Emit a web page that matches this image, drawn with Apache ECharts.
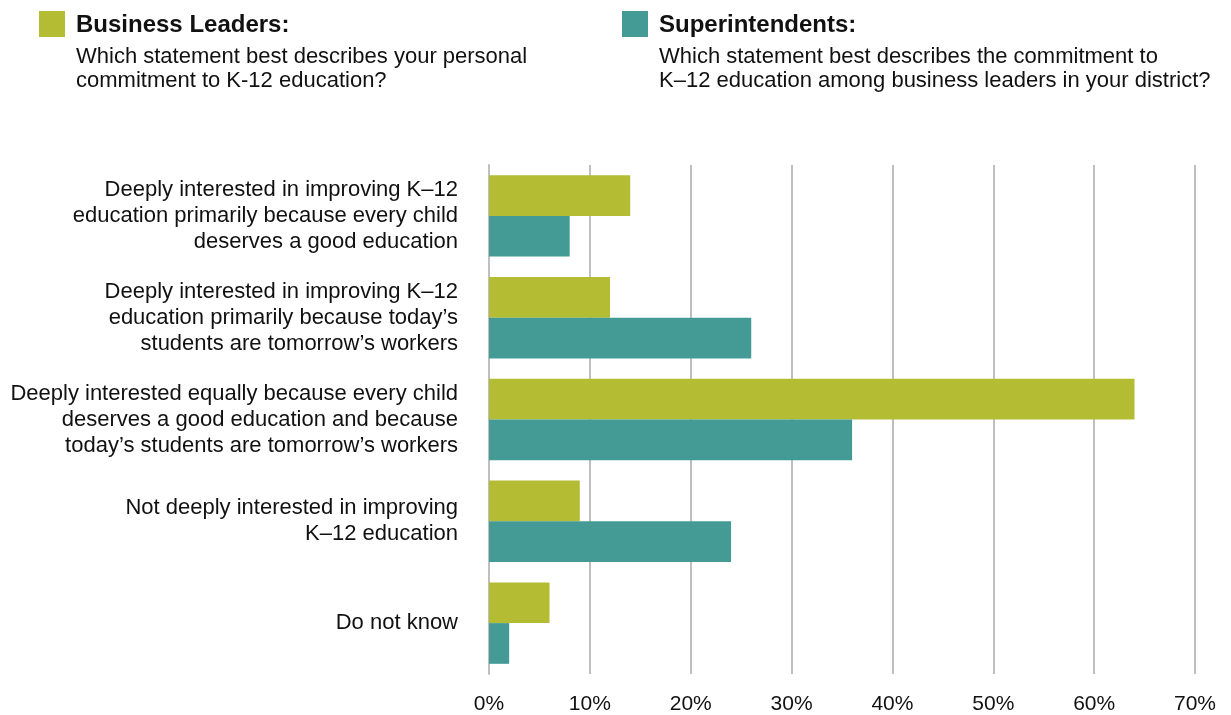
<!DOCTYPE html>
<html>
<head>
<meta charset="utf-8">
<script src="https://cdn.jsdelivr.net/npm/echarts@6/dist/echarts.min.js"></script>
<style>
html,body{margin:0;padding:0;background:#fff;}
#chart{width:1231px;height:715px;}
</style>
</head>
<body>
<div id="chart"></div>
<script>
var categories = [
  'Deeply interested in improving K\u201312\neducation primarily because every child\ndeserves a good education',
  'Deeply interested in improving K\u201312\neducation primarily because today\u2019s\nstudents are tomorrow\u2019s workers',
  'Deeply interested equally because every child\ndeserves a good education and because\ntoday\u2019s students are tomorrow\u2019s workers',
  'Not deeply interested in improving\nK\u201312 education',
  'Do not know'
];
var seriesNames = ['Business Leaders:', 'Superintendents:'];
var businessLeaders = [14, 12, 64, 9, 6];
var superintendents = [8, 26, 36, 24, 2];
var subtitles = [
  'Which statement best describes your personal\ncommitment to K-12 education?',
  'Which statement best describes the commitment to\nK\u201312 education among business leaders in your district?'
];
var colors = ['#B3BC33', '#449B95'];
var FONT = 'Liberation Sans';

var chart = echarts.init(document.getElementById('chart'));
chart.setOption({
  animation: false,
  grid: {left: 489, right: 36, top: 165, bottom: 41, containLabel: false},
  xAxis: {
    type: 'value', min: 0, max: 70, interval: 10,
    axisLabel: {formatter: '{value}%', color: '#111', fontFamily: FONT, fontSize: 21, margin: 20},
    splitLine: {show: true, lineStyle: {color: '#BFBFBF', width: 2}},
    axisLine: {show: false}, axisTick: {show: false}
  },
  yAxis: {
    type: 'category', data: categories, inverse: true,
    axisLine: {show: true, lineStyle: {color: '#BFBFBF', width: 2}},
    axisTick: {show: false},
    axisLabel: {color: '#111', fontFamily: FONT, fontSize: 22, lineHeight: 26, margin: 31, align: 'right'}
  },
  series: [
    {name: seriesNames[0], type: 'bar', data: businessLeaders, barGap: '0%', barCategoryGap: '20%',
     itemStyle: {color: colors[0]}},
    {name: seriesNames[1], type: 'bar', data: superintendents, barGap: '0%', barCategoryGap: '20%',
     itemStyle: {color: colors[1]}}
  ],
  graphic: [
    {type: 'rect', left: 39, top: 11, shape: {width: 26, height: 26}, style: {fill: colors[0]}},
    {type: 'text', left: 76, top: 13, style: {text: seriesNames[0], font: 'bold 24px ' + FONT, fill: '#111'}},
    {type: 'text', left: 76, top: 45, style: {text: subtitles[0], font: '22px ' + FONT, fill: '#111', lineHeight: 24}},
    {type: 'rect', left: 622, top: 11, shape: {width: 26, height: 26}, style: {fill: colors[1]}},
    {type: 'text', left: 659, top: 13, style: {text: seriesNames[1], font: 'bold 24px ' + FONT, fill: '#111'}},
    {type: 'text', left: 659, top: 45, style: {text: subtitles[1], font: '22px ' + FONT, fill: '#111', lineHeight: 24}}
  ]
});
</script>
</body>
</html>
